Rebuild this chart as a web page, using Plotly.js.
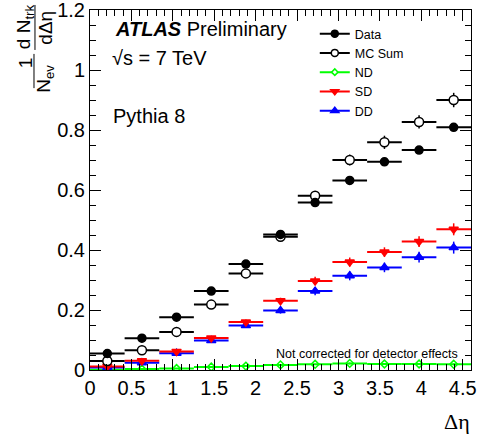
<!DOCTYPE html>
<html>
<head>
<meta charset="utf-8">
<script src="https://cdn.plot.ly/plotly-3.0.1.min.js"></script>
<style>html,body{margin:0;padding:0;background:#fff;}#chart{width:482px;height:441px;}</style>
</head>
<body>
<div id="chart"></div>
<script>
// Bin centres in delta-eta (11 bins of width 4.6/11)
const etaCenters = [0.209, 0.627, 1.045, 1.464, 1.882, 2.300, 2.718, 3.136, 3.555, 3.973, 4.391];
const binHalfWidth = [0.209, 0.209, 0.209, 0.209, 0.209, 0.209, 0.209, 0.209, 0.209, 0.209, 0.209];

const dataVals = [0.055, 0.106, 0.176, 0.263, 0.353, 0.452, 0.558, 0.632, 0.694, 0.733, 0.809];
const dataErr  = [0.003, 0.004, 0.005, 0.006, 0.007, 0.008, 0.009, 0.010, 0.010, 0.010, 0.010];

const mcSumVals = [0.030, 0.066, 0.127, 0.218, 0.322, 0.444, 0.581, 0.700, 0.759, 0.827, 0.900];
const mcSumErr  = [0.004, 0.005, 0.006, 0.008, 0.010, 0.012, 0.015, 0.018, 0.022, 0.022, 0.024];

const ndVals = [0.001, 0.003, 0.005, 0.010, 0.013, 0.017, 0.019, 0.022, 0.020, 0.020, 0.019];
const ndErr  = [0.001, 0.001, 0.001, 0.002, 0.002, 0.002, 0.002, 0.003, 0.003, 0.003, 0.003];

const sdVals = [0.012, 0.031, 0.062, 0.107, 0.160, 0.231, 0.297, 0.360, 0.393, 0.428, 0.469];
const sdErr  = [0.003, 0.004, 0.005, 0.006, 0.008, 0.010, 0.014, 0.015, 0.016, 0.018, 0.020];

const ddVals = [0.008, 0.024, 0.056, 0.098, 0.148, 0.198, 0.263, 0.314, 0.342, 0.376, 0.408];
const ddErr  = [0.003, 0.004, 0.005, 0.006, 0.008, 0.010, 0.014, 0.015, 0.016, 0.018, 0.020];

const seriesNames = ['Data', 'MC Sum', 'ND', 'SD', 'DD'];

const xRange = [0, 4.6];
const yRange = [0, 1.2001];

function errTrace(y, err, color, symbol, size, lineColor) {
  return {
    x: etaCenters, y: y, type: 'scatter', mode: 'markers', showlegend: false,
    marker: {color: color, symbol: symbol, size: size, line: {color: lineColor || color, width: 1.5}},
    error_x: {type: 'data', array: binHalfWidth, color: lineColor || color, thickness: 2, width: 0},
    error_y: {type: 'data', array: err, color: lineColor || color, thickness: 1.5, width: 0},
    hoverinfo: 'skip'
  };
}
function legTrace(name, color, symbol, size, fill) {
  return {
    x: [null], y: [null], type: 'scatter', mode: 'lines+markers', name: name,
    line: {color: color, width: 2},
    marker: {color: fill, symbol: symbol, size: size, line: {color: color, width: 1.5}}
  };
}

const traces = [
  errTrace(ndVals, ndErr, '#00ff00', 'diamond-open', 6),
  errTrace(ddVals, ddErr, '#0000ff', 'triangle-up', 8),
  errTrace(sdVals, sdErr, '#ff0000', 'triangle-down', 8),
  errTrace(mcSumVals, mcSumErr, 'white', 'circle', 9, 'black'),
  errTrace(dataVals, dataErr, 'black', 'circle', 8),
  legTrace(seriesNames[0], 'black', 'circle', 7, 'black'),
  legTrace(seriesNames[1], 'black', 'circle', 7, 'white'),
  legTrace(seriesNames[2], '#00ff00', 'diamond', 5, 'white'),
  legTrace(seriesNames[3], '#ff0000', 'triangle-down', 7, '#ff0000'),
  legTrace(seriesNames[4], '#0000ff', 'triangle-up', 7, '#0000ff'),
  // empty trace so the mirrored (top/right) axes with minor ticks are drawn
  {x: [null], y: [null], type: 'scatter', mode: 'markers', xaxis: 'x2', yaxis: 'y2', showlegend: false, hoverinfo: 'skip'}
];

const font = 'Liberation Sans, Arial, sans-serif';
const axisCommon = {
  showgrid: false, zeroline: false, showline: true, linecolor: 'black', linewidth: 1,
  mirror: 'allticks', ticks: 'inside', ticklen: 11, tickwidth: 1, tickcolor: 'black',
  ticklabeloverflow: 'allow',
  tickfont: {family: font, size: 20, color: 'black'}
};
const minorX = {ticks: 'inside', ticklen: 6, tickcolor: 'black', tickwidth: 1, showgrid: false, dtick: 0.1};
const minorY = {ticks: 'inside', ticklen: 6, tickcolor: 'black', tickwidth: 1, showgrid: false, dtick: 0.05};

const layout = {
  width: 482, height: 441,
  margin: {l: 90, r: 11, t: 10, b: 71},
  paper_bgcolor: 'white', plot_bgcolor: 'white',
  font: {family: font, color: 'black'},
  xaxis: Object.assign({}, axisCommon, {range: xRange, dtick: 0.5, tick0: 0, minor: minorX}),
  yaxis: Object.assign({}, axisCommon, {range: yRange, dtick: 0.2, tick0: 0, minor: minorY}),
  xaxis2: Object.assign({}, axisCommon, {overlaying: 'x', side: 'top', range: xRange, dtick: 0.5, tick0: 0,
    showticklabels: false, mirror: false, minor: minorX}),
  yaxis2: Object.assign({}, axisCommon, {overlaying: 'y', side: 'right', range: yRange, dtick: 0.2, tick0: 0,
    showticklabels: false, mirror: false, minor: minorY}),
  showlegend: true,
  legend: {x: 0.59, y: 0.975, xanchor: 'left', yanchor: 'top', bgcolor: 'rgba(0,0,0,0)',
    font: {family: font, size: 12.5, color: 'black'}, itemwidth: 30, tracegroupgap: 0},
  shapes: [
    {type: 'line', xref: 'paper', yref: 'paper', x0: -0.1444, x1: -0.1444, y0: 0.889, y1: 1.014, line: {color: 'black', width: 1}},
    {type: 'line', xref: 'paper', yref: 'paper', x0: -0.147, x1: -0.147, y0: 0.783, y1: 0.878, line: {color: 'black', width: 1}}
  ],
  annotations: [
    {xref: 'paper', yref: 'paper', x: 0.06, y: 0.946, xanchor: 'left', yanchor: 'middle', showarrow: false,
      text: '<b><i>ATLAS</i></b> Preliminary', font: {family: font, size: 20, color: 'black'}},
    {xref: 'paper', yref: 'paper', x: 0.052, y: 0.867, xanchor: 'left', yanchor: 'middle', showarrow: false,
      text: '√s = 7 TeV', font: {family: font, size: 20, color: 'black'}},
    {xref: 'paper', yref: 'paper', x: 0.056, y: 0.706, xanchor: 'left', yanchor: 'middle', showarrow: false,
      text: 'Pythia 8', font: {family: font, size: 20, color: 'black'}},
    {xref: 'paper', yref: 'paper', x: 0.971, y: 0.044, xanchor: 'right', yanchor: 'middle', showarrow: false,
      text: 'Not corrected for detector effects', font: {family: font, size: 12.5, color: 'black'}},
    {xref: 'paper', yref: 'paper', x: 0.963, y: -0.144, xanchor: 'center', yanchor: 'middle', showarrow: false,
      text: 'Δη', font: {family: 'Liberation Serif, Times New Roman, serif', size: 22, color: 'black'}},
    {xref: 'paper', yref: 'paper', x: -0.17, y: 0.953, xanchor: 'center', yanchor: 'middle', showarrow: false, textangle: -90,
      text: 'd N<sub>trk</sub>', font: {family: font, size: 19, color: 'black'}},
    {xref: 'paper', yref: 'paper', x: -0.119, y: 0.95, xanchor: 'center', yanchor: 'middle', showarrow: false, textangle: -90,
      text: 'dΔη', font: {family: font, size: 19, color: 'black'}},
    {xref: 'paper', yref: 'paper', x: -0.167, y: 0.853, xanchor: 'center', yanchor: 'middle', showarrow: false, textangle: -90,
      text: '1', font: {family: font, size: 19, color: 'black'}},
    {xref: 'paper', yref: 'paper', x: -0.119, y: 0.808, xanchor: 'center', yanchor: 'middle', showarrow: false, textangle: -90,
      text: 'N<sub>ev</sub>', font: {family: font, size: 19, color: 'black'}}
  ]
};

Plotly.newPlot('chart', traces, layout, {staticPlot: true, displayModeBar: false});
</script>
</body>
</html>
